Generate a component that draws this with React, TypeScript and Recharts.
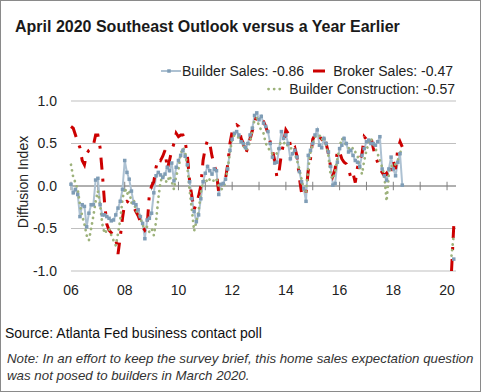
import React from 'react';
import { LineChart, Line, XAxis, YAxis, CartesianGrid, ReferenceLine } from 'recharts';

// Monthly index: 0 = Jan 2006 ... 171 = Apr 2020
const builderSales: (number | null)[] = [
  // 2006
  0.02, -0.08, -0.04, -0.10, -0.36, -0.22, -0.24, -0.48, -0.32, -0.22, -0.22, 0.07,
  // 2007
  0.09, -0.22, -0.34, -0.34, -0.36, -0.38, -0.41, -0.40, -0.34, -0.26, -0.18, -0.04,
  // 2008
  0.30, 0.16, 0.08, -0.06, -0.20, -0.22, -0.28, -0.36, -0.44, -0.62, -0.40, -0.38,
  // 2009
  -0.32, -0.08, 0.12, 0.16, 0.13, 0.10, 0.14, 0.22, 0.18, 0.27, 0.06, 0.22,
  // 2010
  0.30, 0.36, 0.42, 0.35, 0.25, 0.05, -0.15, -0.30, -0.42, -0.34, -0.15, 0.05,
  // 2011
  0.15, 0.23, 0.18, 0.14, 0.20, 0.18, -0.10, 0.02, 0.03, 0.08, 0.20, 0.42,
  // 2012
  0.55, 0.62, 0.64, 0.60, 0.52, 0.50, 0.45, 0.50, 0.60, 0.68, 0.83, 0.86,
  // 2013
  0.78, 0.82, 0.74, 0.70, 0.64, 0.50, 0.34, 0.27, 0.28, 0.44, 0.64, 0.56,
  // 2014
  0.60, 0.50, 0.32, 0.38, 0.42, 0.34, 0.17, 0.05, -0.03, -0.18, 0.36, 0.42,
  // 2015
  0.50, 0.60, 0.66, 0.48, 0.45, 0.56, 0.50, 0.40, 0.23, 0.01, 0.03, 0.28,
  // 2016
  0.44, 0.48, 0.56, 0.50, 0.40, 0.42, 0.36, 0.30, 0.28, 0.23, 0.36, 0.44,
  // 2017
  0.52, 0.54, 0.50, 0.50, 0.48, 0.52, 0.58, 0.20, 0.12, 0.07, 0.20, 0.34,
  // 2018
  0.20, 0.12, 0.28, 0.38, 0.01, null, null, null, null, null, null, null,
  // 2019
  null, null, null, null, null, null, null, null, null, null, null, null,
  // 2020
  null, null, null, -0.86,
];

const brokerSales: (number | null)[] = [
  // 2006
  0.70, 0.68, 0.60, 0.52, 0.45, 0.30, 0.25, 0.38, 0.42, 0.44, 0.48, 0.60,
  // 2007
  0.60, 0.45, 0.15, -0.20, -0.45, -0.52, -0.55, -0.58, -0.62, -0.80, -0.60, -0.38,
  // 2008
  -0.20, -0.18, -0.20, -0.22, -0.25, -0.30, -0.35, -0.42, -0.48, -0.52, -0.48, -0.10,
  // 2009
  0.00, 0.05, 0.22, 0.32, 0.30, 0.35, 0.42, 0.20, 0.30, 0.42, 0.50, 0.62,
  // 2010
  0.58, 0.60, 0.60, 0.52, 0.36, 0.05, -0.12, -0.28, -0.20, -0.12, 0.00, 0.30,
  // 2011
  0.45, 0.54, 0.50, 0.35, 0.25, 0.15, -0.08, 0.05, 0.05, 0.08, 0.25, 0.50,
  // 2012
  0.64, 0.68, 0.72, 0.70, 0.56, 0.50, 0.38, 0.45, 0.55, 0.65, 0.75, 0.82,
  // 2013
  0.80, 0.78, 0.76, 0.70, 0.62, 0.52, 0.42, 0.30, 0.10, 0.18, 0.38, 0.50,
  // 2014
  0.66, 0.62, 0.48, 0.42, 0.45, 0.35, 0.10, -0.08, -0.12, -0.08, 0.18, 0.32,
  // 2015
  0.55, 0.60, 0.62, 0.58, 0.55, 0.58, 0.50, 0.38, 0.22, 0.12, 0.20, 0.42,
  // 2016
  0.40, 0.32, 0.28, 0.26, 0.20, 0.10, 0.15, 0.04, 0.22, 0.30, 0.38, 0.58,
  // 2017
  0.55, 0.58, 0.58, 0.45, 0.34, 0.28, 0.20, 0.16, 0.12, 0.15, 0.10, 0.18,
  // 2018
  0.30, 0.20, 0.44, 0.52, 0.46, null, null, null, null, null, null, null,
  // 2019
  null, null, null, null, null, null, null, null, null, null, null, null,
  // 2020
  null, null, -1.0, -0.47,
];

const builderConstruction: (number | null)[] = [
  // 2006
  0.25, 0.10, 0.04, -0.04, -0.22, -0.35, -0.45, -0.58, -0.64, -0.50, -0.35, -0.18,
  // 2007
  -0.06, -0.22, -0.45, -0.56, -0.52, -0.50, -0.58, -0.64, -0.70, -0.56, -0.40, -0.16,
  // 2008
  -0.02, -0.10, -0.05, -0.20, -0.16, -0.30, -0.30, -0.38, -0.46, -0.50, -0.48, -0.54,
  // 2009
  -0.50, -0.58, -0.42, -0.15, 0.05, 0.12, 0.07, 0.04, 0.12, 0.05, -0.04, 0.12,
  // 2010
  0.20, 0.38, 0.45, 0.40, 0.22, -0.05, -0.28, -0.53, -0.42, -0.30, -0.08, 0.05,
  // 2011
  0.09, 0.04, 0.08, 0.09, 0.05, 0.08, 0.00, -0.04, -0.03, 0.05, 0.20, 0.40,
  // 2012
  0.55, 0.60, 0.60, 0.56, 0.52, 0.48, 0.42, 0.45, 0.52, 0.66, 0.78, 0.80,
  // 2013
  0.70, 0.66, 0.62, 0.50, 0.46, 0.40, 0.38, 0.40, 0.38, 0.48, 0.52, 0.50,
  // 2014
  0.52, 0.46, 0.44, 0.45, 0.38, 0.30, 0.20, 0.08, -0.05, -0.08, 0.20, 0.40,
  // 2015
  0.50, 0.58, 0.58, 0.60, 0.54, 0.58, 0.48, 0.36, 0.12, 0.08, 0.17, 0.32,
  // 2016
  0.46, 0.56, 0.52, 0.48, 0.45, 0.42, 0.45, 0.40, 0.36, 0.22, 0.14, 0.30,
  // 2017
  0.42, 0.50, 0.56, 0.50, 0.44, 0.38, 0.30, 0.22, 0.12, -0.18, 0.14, 0.24,
  // 2018
  0.22, 0.26, 0.30, 0.42, 0.34, null, null, null, null, null, null, null,
  // 2019
  null, null, null, null, null, null, null, null, null, null, null, null,
  // 2020
  null, null, -0.82, -0.57,
];

const yearTickMonths = [0, 12, 24, 36, 48, 60, 72, 84, 96, 108, 120, 132, 144, 156, 168];
const labelMonths = [0, 24, 48, 72, 96, 120, 144, 168];
const labelTexts = ['06', '08', '10', '12', '14', '16', '18', '20'];
const yTicks = [-1, -0.5, 0, 0.5, 1];

const legendItems = {
  builderSales: 'Builder Sales: -0.86',
  brokerSales: 'Broker Sales: -0.47',
  builderConstruction: 'Builder Construction: -0.57',
};

const rows = builderSales.map((v, i) => ({
  m: i,
  bs: v,
  br: brokerSales[i],
  bc: builderConstruction[i],
}));

const FONT = '"Liberation Sans", Arial, sans-serif';
const BLUE_LINE = '#adc1d2';
const BLUE_MARK = '#7f9db6';
const RED = '#cc0000';
const GREEN = '#9db27b';

const SquareDot = (props: any) => {
  const { cx, cy, index, value } = props;
  if (cx == null || cy == null || value == null || Number.isNaN(cy)) {
    return <g key={`sq${index}`} />;
  }
  return (
    <rect key={`sq${index}`} x={cx - 1.75} y={cy - 1.75} width={3.5} height={3.5} fill={BLUE_MARK} />
  );
};

export default function App() {
  return (
    <div
      style={{
        position: 'absolute',
        left: 0,
        top: 0,
        width: 481,
        height: 392,
        background: '#fff',
        boxShadow: 'inset 0 0 0 1px #8a8a8a',
        fontFamily: FONT,
        overflow: 'hidden',
      }}
    >
      <div
        style={{
          position: 'absolute',
          left: 15,
          top: 19,
          fontSize: 16,
          lineHeight: '16px',
          fontWeight: 'bold',
          whiteSpace: 'nowrap',
          color: '#1a1a1a',
        }}
      >
        April 2020 Southeast Outlook versus a Year Earlier
      </div>

      {/* Legend */}
      <div
        style={{
          position: 'absolute',
          right: 28,
          top: 64,
          height: 14,
          display: 'flex',
          alignItems: 'center',
          fontSize: 14,
          lineHeight: '14px',
          color: '#222',
          whiteSpace: 'nowrap',
        }}
      >
        <svg width={20} height={10} style={{ marginRight: 1 }}>
          <line x1={0} y1={5} x2={20} y2={5} stroke={BLUE_LINE} strokeWidth={2} />
          <rect x={6.25} y={3.25} width={3.5} height={3.5} fill={BLUE_MARK} />
        </svg>
        <span>{legendItems.builderSales}</span>
        <svg width={12} height={10} style={{ marginLeft: 9, marginRight: 8 }}>
          <line x1={0} y1={5} x2={12} y2={5} stroke={RED} strokeWidth={3} />
        </svg>
        <span>{legendItems.brokerSales}</span>
      </div>
      <div
        style={{
          position: 'absolute',
          right: 26,
          top: 82,
          height: 14,
          display: 'flex',
          alignItems: 'center',
          fontSize: 14,
          lineHeight: '14px',
          color: '#222',
          whiteSpace: 'nowrap',
        }}
      >
        <svg width={16} height={10} style={{ marginRight: 6 }}>
          <line
            x1={1.5}
            y1={5}
            x2={15}
            y2={5}
            stroke={GREEN}
            strokeWidth={2.75}
            strokeDasharray="0.1 5.5"
            strokeLinecap="round"
          />
        </svg>
        <span>{legendItems.builderConstruction}</span>
      </div>

      {/* Y axis title */}
      <div
        style={{
          position: 'absolute',
          left: 22.5 - 60,
          top: 182 - 8,
          width: 120,
          height: 16,
          lineHeight: '16px',
          textAlign: 'center',
          fontSize: 14,
          color: '#222',
          transform: 'rotate(-90deg)',
          whiteSpace: 'nowrap',
        }}
      >
        Diffusion Index
      </div>

      <LineChart
        width={481}
        height={392}
        data={rows}
        margin={{ top: 101, right: 25, bottom: 91, left: 31 }}
        style={{ position: 'absolute', left: 0, top: 0 }}
      >
        <CartesianGrid vertical={false} stroke="#bfbfbf" strokeWidth={1} />
        <XAxis
          type="number"
          dataKey="m"
          domain={[0, 172]}
          ticks={labelMonths}
          interval={0}
          tickFormatter={(v: number) => labelTexts[labelMonths.indexOf(v)] ?? ''}
          axisLine={false}
          tickLine={false}
          tickSize={0}
          tickMargin={14}
          height={30}
          tick={{ fill: '#222', fontSize: 14, fontFamily: FONT }}
        />
        <YAxis
          type="number"
          domain={[-1, 1]}
          ticks={yTicks}
          interval={0}
          tickFormatter={(v: number) => v.toFixed(1)}
          axisLine={false}
          tickLine={false}
          tickSize={0}
          tickMargin={14}
          width={40}
          tick={{ fill: '#222', fontSize: 14, fontFamily: FONT }}
        />
        <ReferenceLine y={0} stroke="#808080" strokeWidth={1} />
        {yearTickMonths.map((t) => (
          <ReferenceLine
            key={`yt${t}`}
            segment={[
              { x: t, y: -0.05 },
              { x: t, y: 0.05 },
            ]}
            stroke="#808080"
            strokeWidth={1}
          />
        ))}
        <Line
          type="linear"
          dataKey="bs"
          stroke={BLUE_LINE}
          strokeWidth={2}
          dot={SquareDot}
          activeDot={false}
          isAnimationActive={false}
        />
        <Line
          type="linear"
          dataKey="br"
          stroke={RED}
          strokeWidth={3}
          strokeDasharray="12 9 3 9"
          dot={false}
          activeDot={false}
          isAnimationActive={false}
        />
        <Line
          type="linear"
          dataKey="bc"
          stroke={GREEN}
          strokeWidth={2.75}
          strokeDasharray="0.1 5.5"
          strokeLinecap="round"
          dot={false}
          activeDot={false}
          isAnimationActive={false}
        />
      </LineChart>

      <div
        style={{
          position: 'absolute',
          left: 5,
          top: 326,
          fontSize: 14,
          lineHeight: '14px',
          color: '#111',
          whiteSpace: 'nowrap',
        }}
      >
        Source: Atlanta Fed business contact poll
      </div>
      <div
        style={{
          position: 'absolute',
          left: 7,
          top: 350,
          fontSize: 13.3,
          lineHeight: '17px',
          fontStyle: 'italic',
          color: '#333',
          whiteSpace: 'nowrap',
        }}
      >
        Note: In an effort to keep the survey brief, this home sales expectation question
        <br />
        was not posed to builders in March 2020.
      </div>
    </div>
  );
}
